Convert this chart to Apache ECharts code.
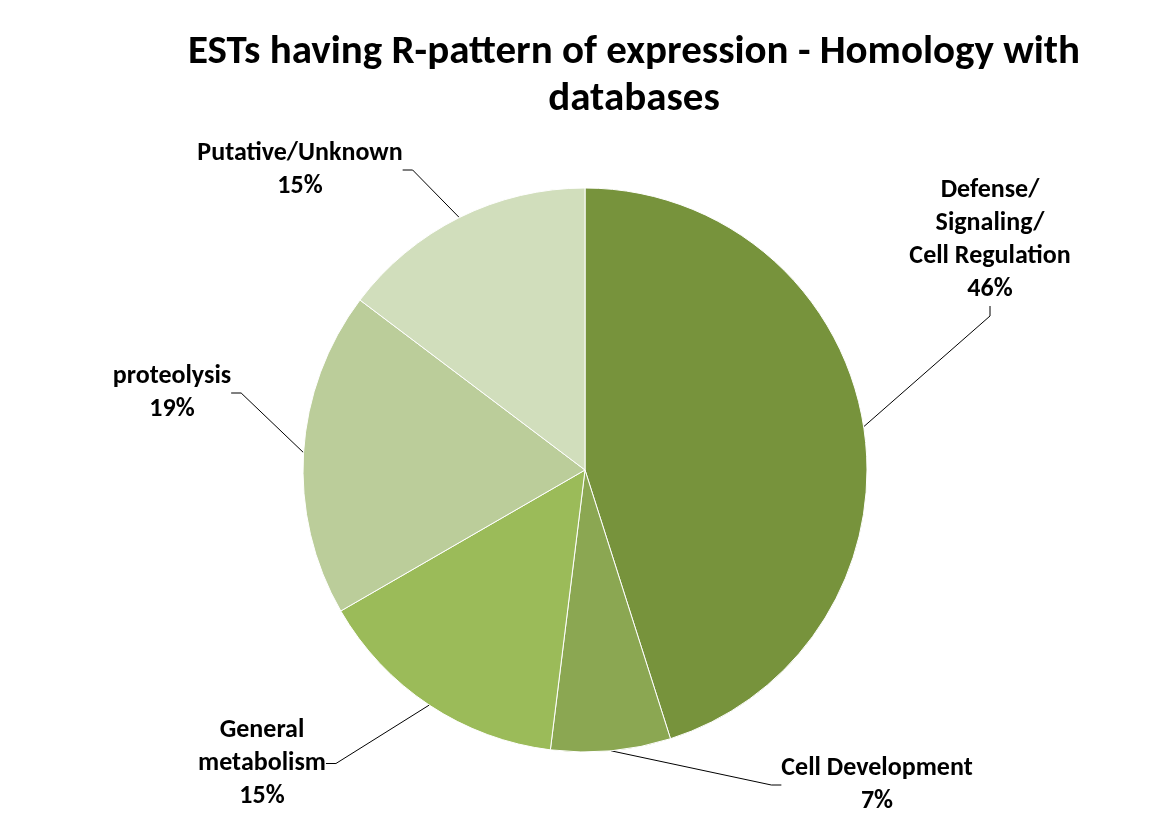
<!DOCTYPE html>
<html>
<head>
<meta charset="utf-8">
<script src="https://cdn.jsdelivr.net/npm/echarts@6/dist/echarts.min.js"></script>
<style>
  html, body { margin: 0; padding: 0; background: #fff; }
  #main { width: 1170px; height: 819px; }
</style>
</head>
<body>
<div id="main"></div>
<script>
var myChart = echarts.init(document.getElementById('main'));

// categories and percentages
var categories = ['Defense/\nSignaling/\nCell Regulation', 'Cell Development', 'General\nmetabolism', 'proteolysis', 'Putative/Unknown'];
var values = [46, 7, 15, 19, 15];
var colors = ['#77933C', '#8BA752', '#9BBB59', '#BBCD9A', '#D1DEBC'];

// where each label sits (centre x, top y)
var labelPos = [[990, 174], [877, 752], [262, 714], [172, 360], [300, 137]];

var font = 'Carlito, Lato, sans-serif';

var pieData = [];
for (var i = 0; i < categories.length; i++) {
  pieData.push({ name: categories[i], value: values[i], itemStyle: { color: colors[i] } });
}

var option = {
  animation: false,
  backgroundColor: '#fff',
  title: {
    text: 'ESTs having R-pattern of expression - Homology with\ndatabases',
    left: 629,
    textAlign: 'center',
    top: 24,
    textStyle: {
      fontFamily: font,
      fontSize: 41,
      fontWeight: 'bold',
      color: '#000',
      lineHeight: 47
    }
  },
  series: [{
    type: 'pie',
    center: [585, 470],
    radius: 282,
    startAngle: 90,
    clockwise: true,
    data: pieData,
    itemStyle: { borderColor: '#fff', borderWidth: 1 },
    label: {
      show: true,
      position: 'outside',
      formatter: function (p) { return p.name + '\n' + p.value + '%'; },
      fontFamily: font,
      fontSize: 26,
      fontWeight: 'bold',
      color: '#000',
      lineHeight: 33,
      align: 'center'
    },
    labelLine: {
      show: true,
      length: 20,
      length2: 10,
      lineStyle: { color: '#000', width: 1 }
    },
    labelLayout: function (params) {
      var p = labelPos[params.dataIndex];
      return { x: p[0], y: p[1], align: 'center', verticalAlign: 'top' };
    }
  }]
};

myChart.setOption(option);
</script>
</body>
</html>
